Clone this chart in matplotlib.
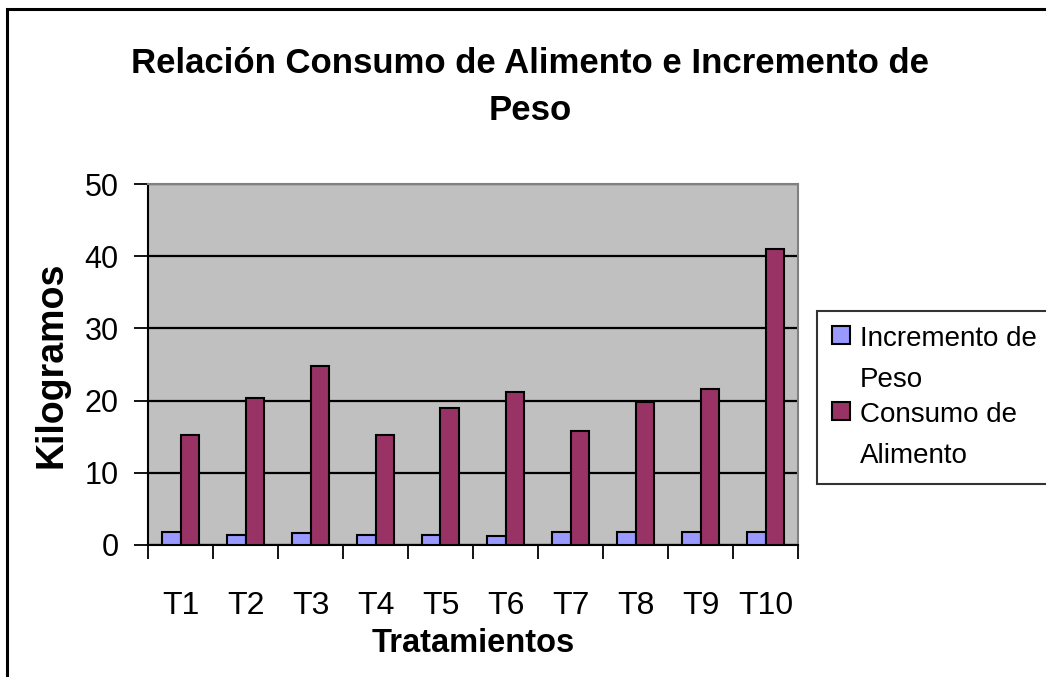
"""Relación consumo de alimento e incremento de peso, bar chart."""

import matplotlib

matplotlib.use("Agg")
import matplotlib.pyplot as plt
import numpy as np
from matplotlib.patches import Rectangle

tratamientos = ["T1", "T2", "T3", "T4", "T5", "T6", "T7", "T8", "T9", "T10"]
incremento_peso = [1.75, 1.35, 1.7, 1.35, 1.35, 1.25, 1.8, 1.75, 1.75, 1.75]
consumo_alimento = [15.3, 20.4, 24.75, 15.3, 19.0, 21.2, 15.8, 19.75, 21.6, 41.0]
y_ticks = [0, 10, 20, 30, 40, 50]

FONT = ["Liberation Sans", "DejaVu Sans"]
plt.rcParams["font.family"] = FONT

W, H = 1046, 677
fig = plt.figure(figsize=(W / 100, H / 100), dpi=100)
fig.patch.set_facecolor("white")

# outer chart border (right and bottom run off the picture)
fig.patches.append(
    Rectangle((6.5 / W, -0.05), 1.2, 1 - 8.5 / H + 0.05, transform=fig.transFigure,
              fill=False, edgecolor="black", linewidth=2.2, zorder=0)
)

ax = fig.add_axes([148 / W, 1 - 545 / H, 650 / W, 361 / H])
ax.set_facecolor("#c0c0c0")

x = np.arange(len(tratamientos))
width = 0.29
b1 = ax.bar(x - width / 2, incremento_peso, width, color="#9999ff",
            edgecolor="black", linewidth=1.5, label="Incremento de\nPeso", zorder=3)
b2 = ax.bar(x + width / 2, consumo_alimento, width, color="#993366",
            edgecolor="black", linewidth=1.5, label="Consumo de\nAlimento", zorder=3)

ax.set_xlim(-0.5, len(tratamientos) - 0.5)
ax.set_ylim(0, 50)
ax.set_yticks(y_ticks)
ax.set_yticklabels([str(v) for v in y_ticks], fontsize=22)
ax.yaxis.grid(True, color="black", linewidth=1.6, zorder=1)
ax.set_axisbelow(True)

ax.set_xticks(np.arange(len(tratamientos) + 1) - 0.5)
ax.set_xticklabels([])
ax.set_xticks(x, minor=True)
ax.set_xticklabels(tratamientos, minor=True, fontsize=23)
ax.tick_params(axis="x", which="minor", length=0, pad=33)
ax.tick_params(axis="x", which="major", length=10, width=1.3, direction="out")
ax.tick_params(axis="y", length=10, width=1.3, direction="out", pad=11)

for side in ("left", "bottom"):
    ax.spines[side].set_color("black")
    ax.spines[side].set_linewidth(1.5)
for side in ("top", "right"):
    ax.spines[side].set_color("#808080")
    ax.spines[side].set_linewidth(1.5)

ax.set_xlabel("Tratamientos", fontsize=23.5, fontweight="bold", labelpad=5)
ax.set_ylabel("Kilogramos", fontsize=27, fontweight="bold", labelpad=11)

fig.text(530 / W, 1 - 73 / H, "Relación Consumo de Alimento e Incremento de",
         ha="center", va="baseline", fontsize=25, fontweight="bold")
fig.text(530 / W, 1 - 120 / H, "Peso",
         ha="center", va="baseline", fontsize=25, fontweight="bold")

leg = ax.legend(handles=[b1, b2], loc="upper left",
                bbox_to_anchor=(817 / W, 1 - 311 / H), bbox_transform=fig.transFigure,
                fontsize=20, frameon=True, fancybox=False, borderaxespad=0,
                handlelength=0.62, handleheight=0.62, handletextpad=0.36,
                labelspacing=0.3, borderpad=0.55)
leg.get_frame().set_edgecolor("black")
leg.get_frame().set_linewidth(1.5)
for t in leg.get_texts():
    t.set_linespacing(1.75)
# put each marker next to the first line of its label, as the original does
for column in leg._legend_handle_box.get_children():
    for item in column.get_children():
        item.align = "top"

fig.savefig("out.png", dpi=100, facecolor="white")
